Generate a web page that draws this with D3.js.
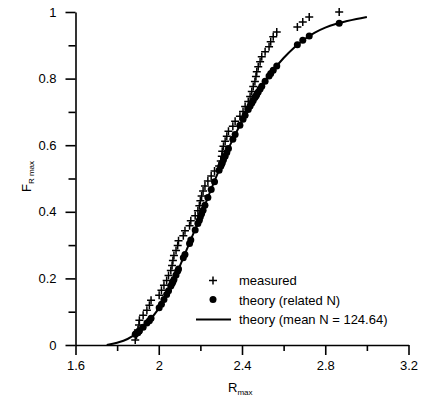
<!DOCTYPE html>
<html>
<head>
<meta charset="utf-8">
<script src="https://cdn.jsdelivr.net/npm/d3@7"></script>
<style>
  body { margin: 0; background: #fff; }
  text { font-family: "Liberation Sans", Arial, sans-serif; fill: #000; }
</style>
</head>
<body>
<script>
// measured maxima, sorted (F = rank / n)
const measuredR = [1.887, 1.893, 1.900, 1.905, 1.907, 1.925, 1.943, 1.955, 1.963, 2.002,
  2.013, 2.025, 2.038, 2.047, 2.058, 2.064, 2.068, 2.073, 2.083, 2.091,
  2.095, 2.118, 2.126, 2.148, 2.154, 2.175, 2.188, 2.195, 2.200, 2.206,
  2.213, 2.222, 2.236, 2.252, 2.268, 2.290, 2.298, 2.303, 2.305, 2.311,
  2.319, 2.327, 2.335, 2.356, 2.367, 2.390, 2.405, 2.415, 2.430, 2.439,
  2.447, 2.454, 2.462, 2.467, 2.471, 2.478, 2.487, 2.495, 2.511, 2.530,
  2.538, 2.550, 2.567, 2.666, 2.692, 2.723, 2.867]

// theory with related N, at the same R
const theoryF = [0.032, 0.035, 0.038, 0.041, 0.043, 0.053, 0.066, 0.073, 0.080, 0.112,
  0.122, 0.137, 0.152, 0.163, 0.177, 0.185, 0.190, 0.197, 0.210, 0.222,
  0.228, 0.262, 0.272, 0.305, 0.315, 0.345, 0.365, 0.375, 0.385, 0.394,
  0.405, 0.420, 0.443, 0.467, 0.490, 0.525, 0.537, 0.544, 0.547, 0.556,
  0.567, 0.578, 0.590, 0.618, 0.632, 0.660, 0.678, 0.690, 0.707, 0.718,
  0.727, 0.734, 0.743, 0.748, 0.752, 0.760, 0.769, 0.777, 0.792, 0.808,
  0.815, 0.825, 0.838, 0.902, 0.915, 0.928, 0.966]

// theory curve (mean N = 124.64)
const curveR = [1.75, 1.80, 1.85, 1.90, 1.95, 2.00, 2.05, 2.10, 2.15, 2.20, 2.25, 2.30, 2.35,
  2.40, 2.45, 2.50, 2.55, 2.60, 2.65, 2.70, 2.75, 2.80, 2.85, 2.90, 2.95, 3.00]
const curveF = [0.0, 0.007, 0.018, 0.038, 0.07, 0.11, 0.165, 0.235, 0.31, 0.385, 0.465, 0.54, 0.61,
  0.672, 0.73, 0.78, 0.825, 0.862, 0.893, 0.918, 0.938, 0.953, 0.964, 0.972, 0.979, 0.985]

const xTicks = [1.6, 2, 2.4, 2.8, 3.2]
const xMinor = [1.8, 2.2, 2.6, 3.0]
const yTicks = [0, 0.2, 0.4, 0.6, 0.8, 1]
const yMinor = [0.1, 0.3, 0.5, 0.7, 0.9]

const legendItems = ["measured", "theory (related N)", "theory (mean N = 124.64)"]

const n = measuredR.length
const measured = measuredR.map((r, i) => ({ r: r, f: (i + 1) / n }))
const related = measuredR.map((r, i) => ({ r: r, f: theoryF[i] }))
const line = curveR.map((r, i) => ({ r: r, f: curveF[i] }))

let svg = d3.select("body")
            .append("svg")
            .attr("width", 424)
            .attr("height", 399)

const x = d3.scaleLinear().domain([1.6, 3.2]).range([75.5, 408.5])
const y = d3.scaleLinear().domain([0, 1]).range([345, 12])

// axes
const gx = svg.append("g").attr("transform", "translate(0,345)")
gx.call(d3.axisBottom(x).tickValues(xTicks).tickSize(10).tickSizeOuter(0).tickPadding(6)
          .tickFormat(d3.format("")))
gx.append("g").call(d3.axisBottom(x).tickValues(xMinor).tickSize(6).tickFormat(""))
   .select(".domain").remove()

const gy = svg.append("g").attr("transform", "translate(75.5,0)")
gy.call(d3.axisLeft(y).tickValues(yTicks).tickSize(10).tickSizeOuter(0).tickPadding(9)
          .tickFormat(d3.format("")))
gy.append("g").call(d3.axisLeft(y).tickValues(yMinor).tickSize(7).tickFormat(""))
   .select(".domain").remove()

svg.selectAll(".domain, .tick line")
   .attr("stroke", "#000")
   .attr("stroke-width", 1.6)
svg.selectAll(".tick text")
   .attr("font-size", 13)
   .attr("font-family", "Liberation Sans, Arial, sans-serif")

// axis titles
const xt = svg.append("text")
              .attr("x", 228)
              .attr("y", 392)
              .attr("font-size", 13)
xt.append("tspan").text("R")
xt.append("tspan").attr("font-size", 8).attr("dy", 3).text("max")

const yt = svg.append("text")
              .attr("transform", "translate(31,192) rotate(-90)")
              .attr("font-size", 13)
yt.append("tspan").text("F")
yt.append("tspan").attr("font-size", 8).attr("dy", 3).text("R max")

// theory curve
svg.append("path")
   .datum(line)
   .attr("fill", "none")
   .attr("stroke", "#000")
   .attr("stroke-width", 2)
   .attr("d", d3.line().x(d => x(d.r)).y(d => y(d.f)).curve(d3.curveMonotoneX))

// related N dots
svg.append("g")
   .selectAll("circle")
   .data(related)
   .join("circle")
      .attr("cx", d => x(d.r))
      .attr("cy", d => y(d.f))
      .attr("r", 3.5)
      .attr("fill", "#000")

// measured crosses
const plus = "M-4,0H4M0,-4V4"
svg.append("g")
   .selectAll("path")
   .data(measured)
   .join("path")
      .attr("transform", d => `translate(${x(d.r)},${y(d.f)})`)
      .attr("d", plus)
      .attr("stroke", "#000")
      .attr("stroke-width", 1.5)

// legend
const leg = svg.append("g")
leg.append("path")
   .attr("transform", "translate(213,280.5)")
   .attr("d", plus)
   .attr("stroke", "#000")
   .attr("stroke-width", 1.5)
leg.append("circle")
   .attr("cx", 213).attr("cy", 299.5).attr("r", 3.5)
leg.append("line")
   .attr("x1", 196).attr("x2", 231)
   .attr("y1", 319.5).attr("y2", 319.5)
   .attr("stroke", "#000")
   .attr("stroke-width", 2)
leg.selectAll("text")
   .data(legendItems)
   .join("text")
      .attr("x", 239)
      .attr("y", (d, i) => 285 + i * 19.5)
      .attr("font-size", 13)
      .text(d => d)
</script>
</body>
</html>
